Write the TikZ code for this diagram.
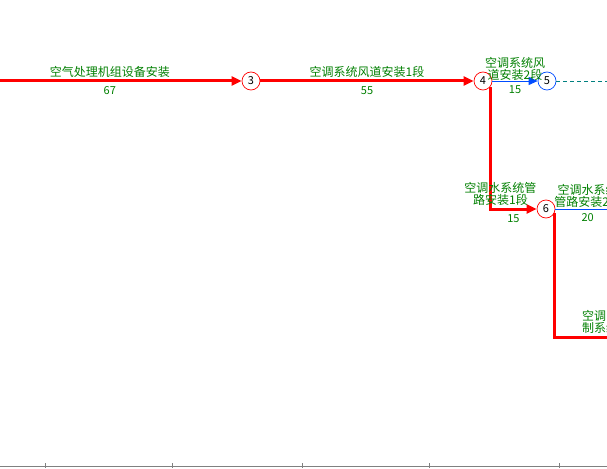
\documentclass[tikz,border=0pt]{standalone}
\usepackage{fontspec}
\newfontfamily\cjk{Noto Sans CJK SC}
\usetikzlibrary{arrows.meta}

\begin{document}
\begin{tikzpicture}[x=1pt,y=-1pt]
\tikzset{evt/.style = {shape=circle,draw=red,line width=0.7pt,fill=white,minimum size=18pt,inner sep=0pt,font=\cjk\fontsize{11}{11}\selectfont}}
\tikzset{crit/.style = {red,line width=3pt,-{Triangle[length=10pt,width=9pt]}}}
\tikzset{free/.style = {blue!70!cyan,line width=0.9pt,-{Triangle[length=9pt,width=8pt]}}}
\tikzset{dum/.style = {teal,line width=0.9pt,dash pattern=on 4pt off 3pt}}
\tikzset{job/.style = {text=green!50!black,font=\cjk\fontsize{12}{12}\selectfont,align=center,inner sep=1.5pt}}
\tikzset{dur/.style = {text=green!50!black,font=\cjk\fontsize{11}{11}\selectfont,inner sep=1pt}}
\useasboundingbox (0,0) rectangle (607,468);
\clip (0,0) rectangle (607,468);
\fill[white] (0,0) rectangle (607,468);

% time scale
\draw[gray,line width=1pt] (0,466) -- (607,466);
\foreach \t in {45,172,302,429,559} \draw[gray,line width=1pt] (\t,463) -- (\t,468);

\node[evt] (n3) at (251,81) {3};
\node[evt] (n4) at (483,81) {4};
\node[evt,draw=blue!70!cyan] (n5) at (547,81) {5};
\node[evt] (n6) at (546,209) {6};
\coordinate (s) at (-22,81);
\coordinate (e5) at (620,81);
\coordinate (e6) at (620,209);
\coordinate (e7) at (670,337);

\draw[crit] (s) to node[job,above]{空气处理机组设备安装} node[dur,below=3pt]{67} (n3);
\draw[crit] (n3) to node[job,above]{空调系统风道安装1段} node[dur,below=3pt]{55} (n4);
\draw[free] (n4) to node[job,above=-1pt]{空调系统风\\道安装2段} node[dur,below=3pt]{15} (n5);
\draw[dum] (n5) to (e5);
\draw[crit] (n4.-39) |- node[pos=0.75,job,above,xshift=-13pt]{空调水系统管\\路安装1段} node[pos=0.75,dur,below=3pt]{15} (n6);
\draw[free] (n6) to node[job,above]{空调水系统\\管路安装2段} node[dur,below=3pt]{20} (e6);
\draw[red,line width=3pt] (n6.-28) |- node[pos=0.75,job,above]{空调自动控\\制系统安装} (e7);
\end{tikzpicture}
\end{document}
